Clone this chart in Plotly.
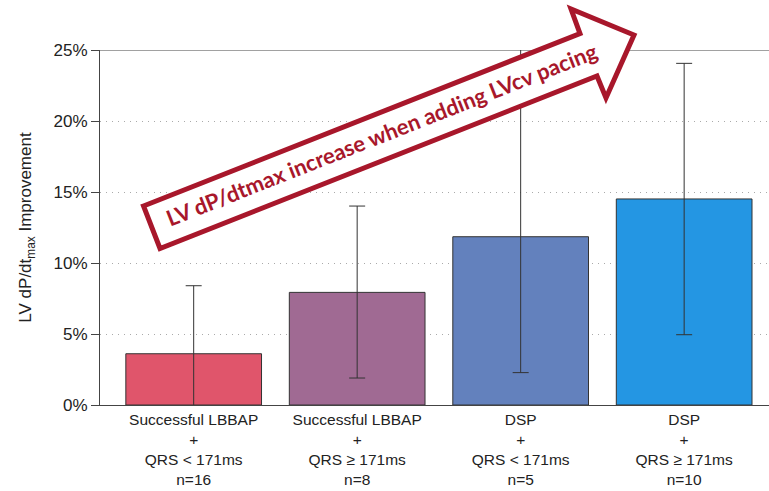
import plotly.graph_objects as go

# Group labels (four-line tick text) and bar values (% improvement)
groups = [
    "Successful LBBAP<br>+<br>QRS < 171ms<br>n=16",
    "Successful LBBAP<br>+<br>QRS ≥ 171ms<br>n=8",
    "DSP<br>+<br>QRS < 171ms<br>n=5",
    "DSP<br>+<br>QRS ≥ 171ms<br>n=10",
]
improvement = [3.61, 7.93, 11.85, 14.51]
err_plus = [4.79, 6.08, 13.5, 9.55]
err_minus = [4.79, 6.03, 9.57, 9.56]
bar_colors = ["#E0556B", "#A06A93", "#6381BD", "#2496E3"]
y_ticks = [0, 5, 10, 15, 20, 25]
y_tick_text = ["0%", "5%", "10%", "15%", "20%", "25%"]

W, H = 769, 491
ML, MR, MT, MB = 100, 0, 50, 86
PW, PH = W - ML - MR, H - MT - MB

def paper(px, py):
    """Convert page pixel position to paper coordinates."""
    return (px - ML) / PW, (H - MB - py) / PH

fig = go.Figure()
fig.add_trace(go.Bar(
    x=list(range(len(groups))),
    y=improvement,
    marker=dict(color=bar_colors, line=dict(color="#333333", width=1)),
    width=0.83,
    error_y=dict(type="data", symmetric=False, array=err_plus, arrayminus=err_minus,
                 color="#333333", thickness=1, width=8),
))

# Top frame line at 25%
fig.add_shape(type="line", xref="paper", yref="y", x0=0, x1=1, y0=25, y1=25,
              line=dict(color="#444444", width=1), layer="below")

# Red outlined arrow with white fill
ARROW_RED = "#A8172B"
pts = [(143.5, 206), (580, 33.6), (571, 9), (634, 35), (606, 98), (597, 76), (160, 248.5)]
path = ""
for i, (px, py) in enumerate(pts):
    xp, yp = paper(px, py)
    path += ("M" if i == 0 else "L") + f"{xp:.5f},{yp:.5f} "
path += "Z"
fig.add_shape(type="path", xref="paper", yref="paper", path=path,
              fillcolor="white", line=dict(color=ARROW_RED, width=5), layer="above")

tx, ty = paper(381, 134)
fig.add_annotation(xref="paper", yref="paper", x=tx, y=ty, showarrow=False,
                   xanchor="center", yanchor="middle",
                   text="<b>LV dP/dtmax increase when adding LVcv pacing</b>",
                   textangle=-21.5,
                   font=dict(family="Lato, Open Sans, sans-serif", size=22, color=ARROW_RED))

fig.update_layout(
    width=W, height=H,
    margin=dict(l=ML, r=MR, t=MT, b=MB, pad=0),
    paper_bgcolor="white", plot_bgcolor="white",
    showlegend=False,
    font=dict(family="Liberation Sans, Arial, sans-serif", color="#222222"),
)
fig.update_xaxes(
    range=[-0.573, 3.519],
    tickvals=list(range(len(groups))), ticktext=groups,
    tickfont=dict(size=15.5, color="#222222"),
    showline=True, linecolor="#444444", linewidth=1,
    ticks="", showgrid=False, zeroline=False, automargin=False,
)
fig.update_yaxes(
    range=[0, 25],
    tickvals=y_ticks, ticktext=y_tick_text,
    tickfont=dict(size=17, color="#222222"),
    ticks="outside", ticklen=8, tickcolor="#444444",
    showline=True, linecolor="#444444", linewidth=1,
    showgrid=True, gridcolor="#AAAAAA", griddash="1px,5px", gridwidth=1,
    zeroline=False, automargin=False,
    title=dict(text="LV dP/dt<sub>max</sub> Improvement",
               font=dict(size=17, color="#222222"), standoff=17),
)

fig.write_html("out.html")
